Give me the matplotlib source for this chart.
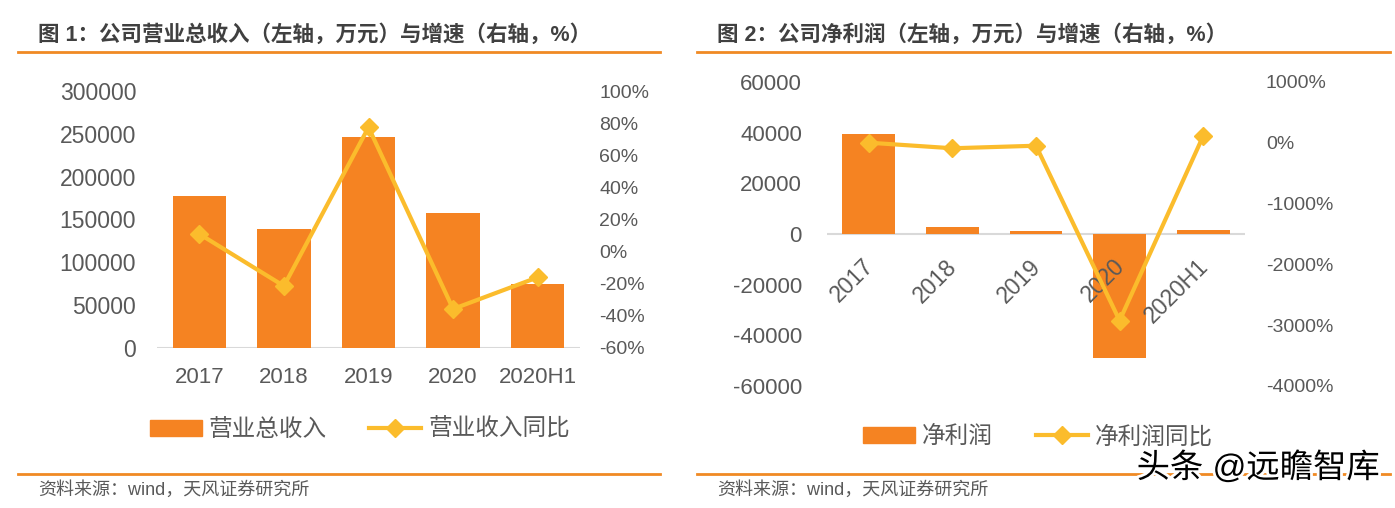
import matplotlib
matplotlib.use("Agg")
import matplotlib.pyplot as plt
import matplotlib.patheffects as pe
from matplotlib.lines import Line2D
from matplotlib.patches import Patch

plt.rcParams['font.family'] = ['Liberation Sans', 'Noto Sans CJK SC', 'DejaVu Sans']
plt.rcParams['axes.unicode_minus'] = False

# data
years = ['2017', '2018', '2019', '2020', '2020H1']
revenue = [177400, 138900, 246000, 158000, 74400]          # 万元
revenue_growth = [11.0, -21.4, 77.4, -35.7, -16.0]        # %
profit = [39400, 2800, 1300, -48900, 1600]                 # 万元
profit_growth = [2, -90, -48, -2925, 112]                  # %

BAR = '#F58322'
LINE = '#FBBC2C'
TXT = '#595959'
RULE = '#F08A24'
W, H = 1395, 508

fig = plt.figure(figsize=(W / 100, H / 100), dpi=100)


def px_axes(x0, y0, x1, y1):
    return fig.add_axes([x0 / W, 1 - y1 / H, (x1 - x0) / W, (y1 - y0) / H])


def clean(ax):
    for s in ax.spines.values():
        s.set_visible(False)
    ax.tick_params(length=0, colors=TXT)


# ---- chart 1 ----
ax1 = px_axes(157, 91, 580, 348)
x = range(len(years))
ax1.bar(x, revenue, width=0.63, color=BAR, zorder=2)
ax1.axhline(0, color='#D9D9D9', lw=1.5, zorder=1)
ax1.set_ylim(0, 300000)
ax1.set_yticks(range(0, 300001, 50000))
ax1.set_xlim(-0.5, 4.5)
ax1.set_xticks(list(x))
ax1.set_xticklabels(years)
clean(ax1)
ax1.tick_params(axis='y', labelsize=16.5, pad=15)
ax1.tick_params(axis='x', labelsize=16, pad=14)
t1 = ax1.twinx()
t1.plot(x, revenue_growth, color=LINE, lw=3, marker='D', ms=9, zorder=3)
t1.set_ylim(-60, 100)
t1.set_yticks(range(-60, 101, 20))
t1.set_yticklabels([f'{v}%' for v in range(-60, 101, 20)])
clean(t1)
t1.tick_params(axis='y', labelsize=14, pad=14)

fig.legend([Patch(color=BAR), Line2D([], [], color=LINE, lw=3, marker='D', ms=9)],
           ['营业总收入', '营业收入同比'], loc='center', ncol=2, frameon=False,
           bbox_to_anchor=(360 / W, 1 - 430 / H), fontsize=17, labelcolor=TXT,
           handlelength=2.2, handletextpad=0.3, columnspacing=1.8)

# ---- chart 2 ----
ax2 = px_axes(827, 82, 1245, 386)
ax2.bar(x, profit, width=0.63, color=BAR, zorder=2)
ax2.axhline(0, color='#D9D9D9', lw=1.5, zorder=1)
ax2.set_ylim(-60000, 60000)
ax2.set_yticks(range(-60000, 60001, 20000))
ax2.set_xlim(-0.5, 4.5)
ax2.set_xticks([])
clean(ax2)
ax2.tick_params(axis='y', labelsize=16, pad=18)
for i, lab in enumerate(years):
    ax2.annotate(lab, (i, 0), xytext=(-5, -15), textcoords='offset points',
                 rotation=45, ha='right', va='top', rotation_mode='anchor',
                 fontsize=16.5, color=TXT, zorder=4)
t2 = ax2.twinx()
t2.plot(x, profit_growth, color=LINE, lw=3, marker='D', ms=9, zorder=3)
t2.set_ylim(-4000, 1000)
t2.set_yticks(range(-4000, 1001, 1000))
t2.set_yticklabels([f'{v}%' for v in range(-4000, 1001, 1000)])
clean(t2)
t2.tick_params(axis='y', labelsize=14, pad=15)

fig.legend([Patch(color=BAR), Line2D([], [], color=LINE, lw=3, marker='D', ms=9)],
           ['净利润', '净利润同比'], loc='center', ncol=2, frameon=False,
           bbox_to_anchor=(1038 / W, 1 - 437 / H), fontsize=17, labelcolor=TXT,
           handlelength=2.2, handletextpad=0.3, columnspacing=1.8)

# ---- titles, rules and sources ----
for x0, x1, title in [(18, 660, '图 1：公司营业总收入（左轴，万元）与增速（右轴，%）'),
                      (697, 1390, '图 2：公司净利润（左轴，万元）与增速（右轴，%）')]:
    fig.text((x0 + 20) / W, 1 - 35 / H, title, fontsize=15.5, fontweight='bold',
             color='#404040', va='center', ha='left')
    fig.add_artist(Line2D([x0 / W, x1 / W], [1 - 52 / H] * 2, color=RULE, lw=2))
    fig.add_artist(Line2D([x0 / W, x1 / W], [1 - 474 / H] * 2, color=RULE, lw=2))
    fig.text((x0 + 20) / W, 1 - 490 / H, '资料来源：wind，天风证券研究所',
             fontsize=13, color=TXT, va='center', ha='left')

fig.text(1380 / W, 1 - 468 / H, '头条 @远瞻智库', fontsize=24, color='black',
         ha='right', va='center',
         path_effects=[pe.withStroke(linewidth=4, foreground='white')])

fig.savefig('out.png', dpi=100)
